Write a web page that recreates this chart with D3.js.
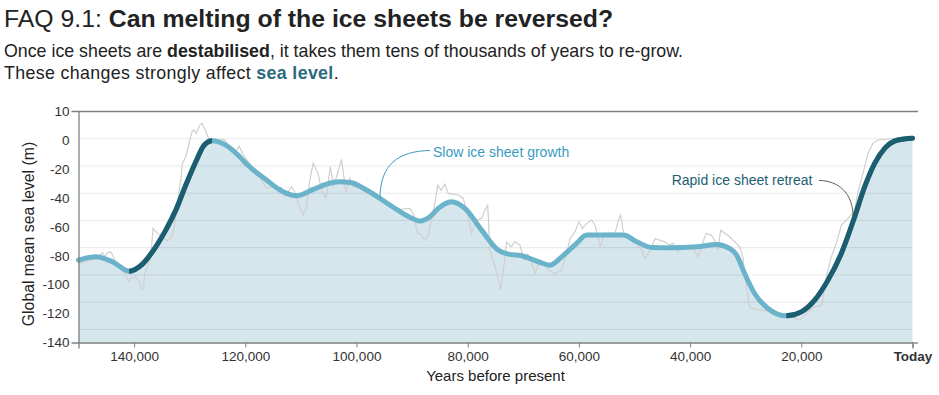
<!DOCTYPE html>
<html lang="en">
<head>
<meta charset="UTF-8">
<script src="https://cdnjs.cloudflare.com/ajax/libs/d3/7.8.5/d3.min.js"></script>
<title>FAQ 9.1</title>
<style>
  body { margin: 0; background: #fff; }
  svg { display: block; font-family: "Liberation Sans", Arial, sans-serif; }
</style>
</head>
<body>
<svg id="chart" width="939" height="395"></svg>
<script>
// smoothed sea level curve (years before present, metres)
const smoothYears = [150000,146900,143900,140900,138500,136100,134300,132500,130700,128900,
  127400,126000,123500,121000,119900,116200,113200,110800,107800,105400,
  103000,100900,98200,95800,92800,90400,88600,86800,85300,82900,
  80500,77500,74500,72700,70300,67300,65200,63100,60500,58600,
  52000,49600,46900,43700,38800,35300,32900,31600,30200,28400,
  26000,22700,20000,17600,15200,12800,10400,8600,6800,5000,
  2600,0];
const smoothLevel = [-89.5,-87.1,-90.7,-97.6,-92.4,-79.7,-67.5,-52.8,-34.4,-17.3,
  -5,-1.8,-5,-13.6,-18.4,-30.7,-39.3,-42.2,-37.6,-33.7,
  -32,-32.7,-38,-44.2,-52.2,-58,-60.8,-57.7,-51.5,-46.6,
  -51.5,-67.5,-82.2,-85.1,-86.3,-90.7,-93.2,-87.1,-77.5,-71.1,
  -71.1,-76,-80.2,-80.4,-79.7,-78,-80.9,-86,-99.3,-114,
  -125,-130.4,-127.5,-118.9,-104.2,-84.6,-57.7,-35.6,-18.4,-7.4,
  -1.3,0];

// raw reconstruction (thin grey line)
const rawYears = [150000,148700,146900,145700,145200,144800,144200,143600,142700,141500,
  141000,140600,139700,139100,138600,138300,138100,137600,137000,136600,
  135800,134600,134000,133400,132800,132200,131600,131300,130700,130100,
  129600,129200,128800,128200,127800,127200,126600,125600,124700,123800,
  122900,121700,121100,120500,120100,118600,117400,116200,115300,114400,
  113500,112900,111700,111100,110300,109600,109000,108400,107800,106900,
  106300,105500,104700,104100,103500,102700,101900,101200,100600,99400,
  98200,97000,95800,92200,91600,90400,89800,89000,88400,87800,
  87200,86500,85800,85400,84800,84100,83500,81700,80800,79900,
  79300,78400,77500,76900,76400,76000,75100,74500,74100,73500,
  73000,72200,71500,70600,69900,69200,68700,67900,67300,66300,
  65500,64300,63100,62200,61600,60700,60000,59400,58600,57700,
  57100,56200,55600,54700,53500,52900,52500,51900,51200,49600,
  48700,48100,47200,46300,45500,44600,43700,43100,42200,41300,
  40100,39200,38600,37700,37100,36200,35400,35000,34500,32900,
  31700,31100,30500,29900,29300,28400,26000,23000,20300,19100,
  17600,16300,15500,14600,13700,12800,11600,10500,9700,8900,
  8000,7100,6200,3200,0];
const rawLevel = [-92,-90.7,-88.3,-84.1,-87.1,-84.1,-83.4,-88.3,-94.4,-100.5,
  -105.4,-103,-101.8,-105.4,-111,-110.3,-99.3,-94.4,-87.1,-66.2,
  -69.9,-73.6,-75.3,-73.6,-66.2,-46.6,-30.7,-18.4,-13.6,-3.7,
  4.8,6,3.6,9.7,11,6,0,-2.6,-1.3,-0.8,
  -6.2,-9.9,-5.7,-11.1,-13.6,-22.1,-28.3,-36.8,-35.6,-37.5,
  -36.1,-43,-35.6,-39.3,-50.3,-56.4,-50.3,-30.7,-18.4,-25.8,
  -38,-44.2,-20.9,-35.6,-27,-15.5,-39.3,-29.5,-35.6,-36.8,
  -39.3,-41.7,-45.4,-52.8,-51.8,-51.5,-55.2,-69.9,-70.4,-74.8,
  -72.4,-60.1,-45.4,-34.4,-38.1,-33.7,-40.5,-41.7,-44.2,-57.7,
  -69.9,-60.1,-58.9,-52.8,-49.1,-82.2,-94.4,-103,-111.6,-94.4,
  -76.1,-79.7,-76.1,-78.5,-89.5,-85.1,-88.3,-99.3,-93.2,-90.7,
  -96.8,-99.3,-96.8,-84.6,-73.6,-68.7,-61.4,-66.2,-62.5,-60.1,
  -63.8,-79.7,-72.4,-69.9,-69.9,-60.1,-56.4,-71.1,-73.6,-77.2,
  -82.2,-88.3,-82.2,-73.6,-74.8,-76.1,-78.5,-77.2,-83.4,-78.5,
  -80.9,-82.2,-87.1,-76.1,-69.9,-71.1,-76.1,-82.2,-67.5,-72.4,
  -77.2,-79.7,-87.1,-109,-123.8,-125.5,-127,-129.2,-133.6,-129.2,
  -123.8,-122.6,-101.8,-87.1,-77.2,-63.8,-58.9,-54,-38,-25.8,
  -11.1,-3.7,-1.3,0,0];

// periods drawn in the dark colour
const rapidPeriods = [[140900, 126000], [22700, 0]];

const xTickValues = [140000, 120000, 100000, 80000, 60000, 40000, 20000, 0];
const yTickLabels = ["10", "0", "-20", "-40", "-60", "-80", "-100", "-120", "-140"];
const gridValues = [0, -20, -40, -60, -80, -100, -120, -140];

const svg = d3.select("#chart");

const x = d3.scaleLinear().domain([150000, 0]).range([78.5, 912.5]);
const y = d3.scaleLinear().domain([20, -150]).range([111, 342.5]);
const yLabels = d3.scalePoint().domain(yTickLabels).range([111, 342.5]);

const smooth = smoothYears.map((d, i) => ({ year: d, level: smoothLevel[i] }));
const raw = rawYears.map((d, i) => ({ year: d, level: rawLevel[i] }));

// titles
const title = svg.append("text").attr("x", 4).attr("y", 27)
    .style("font-size", "24.8px").attr("fill", "#222");
title.append("tspan").text("FAQ 9.1: ");
title.append("tspan").style("font-weight", "bold").text("Can melting of the ice sheets be reversed?");

const sub1 = svg.append("text").attr("x", 4).attr("y", 57)
    .style("font-size", "17.8px").attr("fill", "#222");
sub1.append("tspan").text("Once ice sheets are ");
sub1.append("tspan").style("font-weight", "bold").text("destabilised");
sub1.append("tspan").text(", it takes them tens of thousands of years to re-grow.");

const sub2 = svg.append("text").attr("x", 4).attr("y", 79)
    .style("font-size", "17.8px").style("letter-spacing", "0.35px").attr("fill", "#222");
sub2.append("tspan").text("These changes strongly affect ");
sub2.append("tspan").style("font-weight", "bold").attr("fill", "#2b6b7d").text("sea level");
sub2.append("tspan").text(".");

// area under smooth curve
svg.append("path")
    .datum(smooth)
    .attr("fill", "#d6e6ed")
    .attr("d", d3.area()
        .x(d => x(d.year))
        .y0(y(-150))
        .y1(d => y(d.level))
        .curve(d3.curveMonotoneX));

// gridlines
svg.append("g").selectAll("line")
    .data(gridValues)
    .join("line")
    .attr("x1", x(150000)).attr("x2", x(0))
    .attr("y1", d => y(d) + 0.5).attr("y2", d => y(d) + 0.5)
    .attr("stroke", "#000").attr("stroke-opacity", 0.09);

// raw grey line
svg.append("path")
    .datum(raw)
    .attr("fill", "none")
    .attr("stroke", "#cfcfcf")
    .attr("stroke-width", 1.2)
    .attr("d", d3.line().x(d => x(d.year)).y(d => y(d.level)));

const smoothLine = d3.line()
    .x(d => x(d.year))
    .y(d => y(d.level))
    .curve(d3.curveMonotoneX);

svg.append("path")
    .datum(smooth)
    .attr("fill", "none")
    .attr("stroke", "#6bb3ca")
    .attr("stroke-width", 5)
    .attr("stroke-linecap", "round")
    .attr("d", smoothLine);

// dark segments via clip
const defs = svg.append("defs");
rapidPeriods.forEach((p, i) => {
    defs.append("clipPath").attr("id", "rapid" + i)
        .append("rect")
        .attr("x", x(p[0]))
        .attr("width", x(p[1]) - x(p[0]) + (p[1] === 0 ? 10 : 0))
        .attr("y", 0).attr("height", 395);
    svg.append("path")
        .datum(smooth)
        .attr("fill", "none")
        .attr("stroke", "#1c5d70")
        .attr("stroke-width", 5)
        .attr("stroke-linecap", "round")
        .attr("clip-path", "url(#rapid" + i + ")")
        .attr("d", smoothLine);
});

// frame top
svg.append("line")
    .attr("x1", 78.5).attr("x2", 918)
    .attr("y1", 111.5).attr("y2", 111.5)
    .attr("stroke", "#808080").attr("stroke-width", 1.3);

// x axis
const xAxis = svg.append("g")
    .attr("transform", "translate(0," + y(-150) + ")")
    .call(d3.axisBottom(x)
        .tickValues(xTickValues)
        .tickSizeInner(5)
        .tickSizeOuter(6)
        .tickPadding(4)
        .tickFormat(d => d === 0 ? "Today" : d3.format(",")(d)));
xAxis.select(".domain").attr("stroke", "#808080").attr("stroke-width", 1.3);
xAxis.selectAll(".tick line").attr("stroke", "#808080");
xAxis.selectAll(".tick text")
    .style("font-size", "13.5px").attr("fill", "#333")
    .style("font-weight", d => d === 0 ? "bold" : null);
xAxis.append("line")
    .attr("x1", x(0)).attr("x2", 918).attr("y1", 0.5).attr("y2", 0.5)
    .attr("stroke", "#808080").attr("stroke-width", 1.3);

// y axis (labels evenly spaced as in the original)
const yAxis = svg.append("g")
    .attr("transform", "translate(" + x(150000) + ",0)")
    .call(d3.axisLeft(yLabels).tickSizeInner(0).tickSizeOuter(7).tickPadding(9));
yAxis.select(".domain").attr("stroke", "#808080").attr("stroke-width", 1.3);
yAxis.selectAll(".tick text").style("font-size", "13.5px").attr("fill", "#333");

// axis titles
svg.append("text")
    .attr("x", (x(150000) + x(0)) / 2).attr("y", 381)
    .attr("text-anchor", "middle")
    .style("font-size", "15px").attr("fill", "#222")
    .text("Years before present");

svg.append("text")
    .attr("transform", "translate(34,234) rotate(-90)")
    .attr("text-anchor", "middle")
    .style("font-size", "15.8px").attr("fill", "#222")
    .text("Global mean sea level (m)");

// annotations
svg.append("path")
    .attr("d", "M430,150.5 C398,151 380,165 380,198")
    .attr("fill", "none").attr("stroke", "#3a9bbf").attr("stroke-width", 1);
svg.append("text")
    .attr("x", 433).attr("y", 156.5)
    .style("font-size", "14px").attr("fill", "#3a9bbf")
    .text("Slow ice sheet growth");

svg.append("path")
    .attr("d", "M819,180.5 C838,180.5 853,193 853,216")
    .attr("fill", "none").attr("stroke", "#6b5b4f").attr("stroke-width", 1);
svg.append("text")
    .attr("x", 812.5).attr("y", 184.5)
    .attr("text-anchor", "end")
    .style("font-size", "14px").attr("fill", "#225f72")
    .text("Rapid ice sheet retreat");
</script>
</body>
</html>
